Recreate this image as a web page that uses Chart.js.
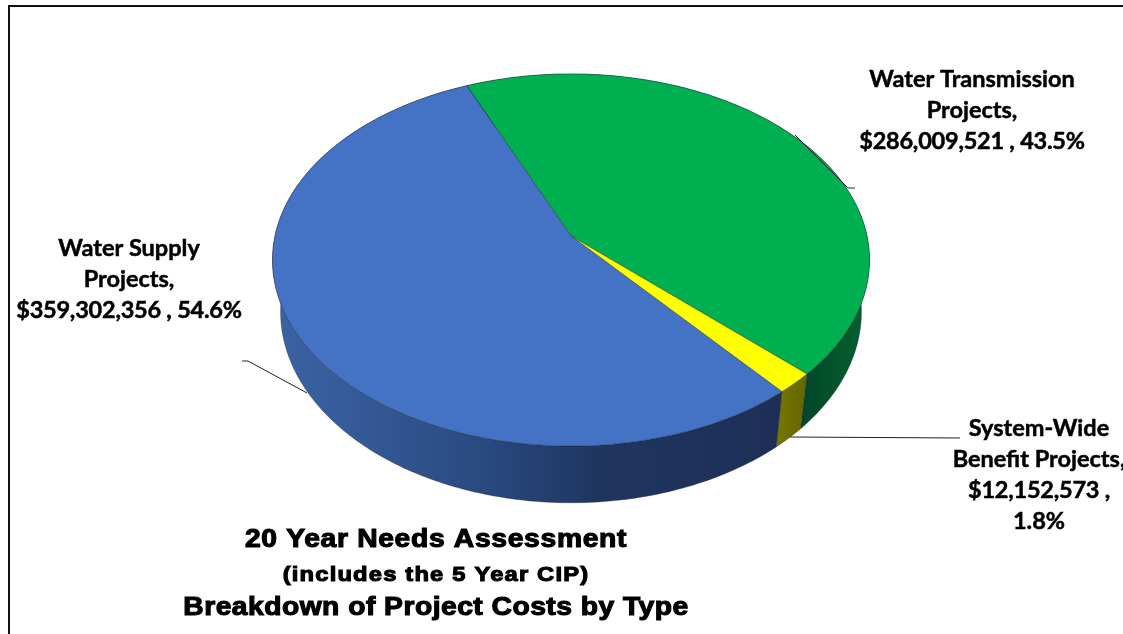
<!DOCTYPE html>
<html>
<head>
<meta charset="utf-8">
<title>20 Year Needs Assessment</title>
<script src="https://cdn.jsdelivr.net/npm/chart.js@4"></script>
<style>
  html, body { margin: 0; padding: 0; background: #fff; overflow: hidden; }
  #pie { display: block; }
</style>
</head>
<body>
<canvas id="pie" width="1123" height="634"></canvas>
<script>
// Project costs by type
const categories = ['Water Transmission Projects', 'System-Wide Benefit Projects', 'Water Supply Projects'];
const costs = [286009521, 12152573, 359302356];
const costLabels = ['$286,009,521', '$12,152,573', '$359,302,356'];
const shareLabels = ['43.5%', '1.8%', '54.6%'];
const sliceColors = ['#00B050', '#FFFF00', '#4472C4'];
const titleLines = ['20 Year Needs Assessment', '(includes the 5 Year CIP)', 'Breakdown of Project Costs by Type'];

// Tilted disc: a point on the unit circle goes through a perspective divide
const TILT = 0.129;
const SQUASH = 0.618;

function projectTop(el, angle) {
  const c = Math.cos(angle), s = Math.sin(angle);
  const w = 1 - TILT * s;
  return [el.x + el.outerRadius * c / w, el.y + el.outerRadius * SQUASH * s / w];
}

// Lower rim of the disc, slightly narrower and pushed down
function projectBottom(el, angle) {
  const c = Math.cos(angle), s = Math.sin(angle);
  const w = 1 - TILT * s;
  return [el.x + el.outerRadius * 0.973 * c / w, el.y + 51 + el.outerRadius * 0.635 * s / w];
}

function traceRim(ctx, el, from, to, project, moveFirst) {
  const steps = Math.max(2, Math.ceil(Math.abs(to - from) * 60));
  for (let i = 0; i <= steps; i++) {
    const p = project(el, from + (to - from) * i / steps);
    if (i === 0 && moveFirst) ctx.moveTo(p[0], p[1]);
    else ctx.lineTo(p[0], p[1]);
  }
}

function wallFill(ctx, index) {
  const stops = {
    0: [[800, '#03452A'], [870, '#03632F']],
    1: [[775, '#787800'], [805, '#666600']],
    2: [[275, '#3B62A3'], [340, '#365C9A'], [480, '#2A4A80'], [600, '#1F3560'], [780, '#1D2F57']]
  }[index];
  const grad = ctx.createLinearGradient(stops[0][0], 0, stops[stops.length - 1][0], 0);
  const span = stops[stops.length - 1][0] - stops[0][0];
  stops.forEach(s => grad.addColorStop((s[0] - stops[0][0]) / span, s[1]));
  return grad;
}

// Slices keep the angles Chart.js worked out, painted on the tilted disc
const tiltedPie = {
  id: 'tiltedPie',
  beforeDatasetDraw(chart, args) {
    const ctx = chart.ctx;
    const arcs = chart.getDatasetMeta(args.index).data;
    ctx.save();
    arcs.forEach((el, i) => {
      ctx.beginPath();
      traceRim(ctx, el, el.startAngle, el.endAngle, projectTop, true);
      traceRim(ctx, el, el.endAngle, el.startAngle, projectBottom, false);
      ctx.closePath();
      ctx.fillStyle = wallFill(ctx, i);
      ctx.fill();
      ctx.strokeStyle = 'rgba(20,30,40,0.55)';
      ctx.lineWidth = 0.6;
      ctx.stroke();
    });
    arcs.forEach(el => {
      ctx.beginPath();
      ctx.moveTo(el.x, el.y);
      traceRim(ctx, el, el.startAngle, el.endAngle, projectTop, false);
      ctx.closePath();
      ctx.fillStyle = el.options.backgroundColor;
      ctx.fill();
      ctx.strokeStyle = 'rgba(30,40,50,0.6)';
      ctx.lineWidth = 0.7;
      ctx.stroke();
    });
    ctx.restore();
    return false;
  }
};

const leaderLines = [
  [[795, 135], [848, 188], [855, 188]],
  [[790, 437], [960, 438]],
  [[307, 393], [248, 361], [242, 361]]
];

const labelBoxes = [
  { x: 972, y: 87, lines: ['Water Transmission', 'Projects,', costLabels[0] + ' , ' + shareLabels[0]] },
  { x: 1039, y: 436, lines: ['System-Wide', 'Benefit Projects,', costLabels[1] + ' ,', shareLabels[1]] },
  { x: 129, y: 256, lines: ['Water Supply', 'Projects,', costLabels[2] + ' , ' + shareLabels[2]] }
];

const frameAndText = {
  id: 'frameAndText',
  afterDraw(chart) {
    const ctx = chart.ctx;
    ctx.save();

    // outer border
    ctx.strokeStyle = '#111';
    ctx.lineWidth = 2;
    ctx.beginPath();
    ctx.moveTo(9, 634);
    ctx.lineTo(9, 6);
    ctx.lineTo(1123, 6);
    ctx.stroke();

    // leader lines
    ctx.strokeStyle = '#222';
    ctx.lineWidth = 1;
    leaderLines.forEach(pts => {
      ctx.beginPath();
      pts.forEach((p, i) => i ? ctx.lineTo(p[0], p[1]) : ctx.moveTo(p[0], p[1]));
      ctx.stroke();
    });

    // slice labels, figures set a little tighter
    ctx.fillStyle = '#000';
    ctx.strokeStyle = '#000';
    ctx.lineWidth = 0.5;
    ctx.textAlign = 'center';
    ctx.textBaseline = 'alphabetic';
    ctx.font = 'bold 23.5px Lato, sans-serif';
    labelBoxes.forEach(box => {
      box.lines.forEach((line, i) => {
        ctx.letterSpacing = line.includes('$') ? '-0.22px' : '0px';
        ctx.fillText(line, box.x, box.y + i * 31);
        ctx.strokeText(line, box.x, box.y + i * 31);
      });
    });
    ctx.letterSpacing = '0px';

    // heading under the pie, stretched sideways
    const fonts = ['bold 25px "Liberation Sans"', 'bold 21px "Liberation Sans"', 'bold 25px "Liberation Sans"'];
    const spacing = ['0.6px', '1.05px', '0.42px'];
    ctx.lineWidth = 1.1;
    titleLines.forEach((line, i) => {
      ctx.save();
      ctx.translate(436, 547 + i * 34);
      ctx.scale(1.13, 1);
      ctx.font = fonts[i];
      ctx.letterSpacing = spacing[i];
      ctx.fillText(line, 0, 0);
      ctx.strokeText(line, 0, 0);
      ctx.restore();
    });
    ctx.restore();
  }
};

new Chart(document.getElementById('pie'), {
  type: 'pie',
  data: {
    labels: categories,
    datasets: [{
      data: costs,
      backgroundColor: sliceColors,
      radius: 296,
      rotation: -23.2,
      borderWidth: 0
    }]
  },
  options: {
    responsive: false,
    animation: false,
    layout: { padding: { left: 19, right: 0, top: 0, bottom: 162 } },
    plugins: {
      legend: { display: false },
      tooltip: { enabled: false }
    }
  },
  plugins: [tiltedPie, frameAndText]
});
</script>
</body>
</html>
